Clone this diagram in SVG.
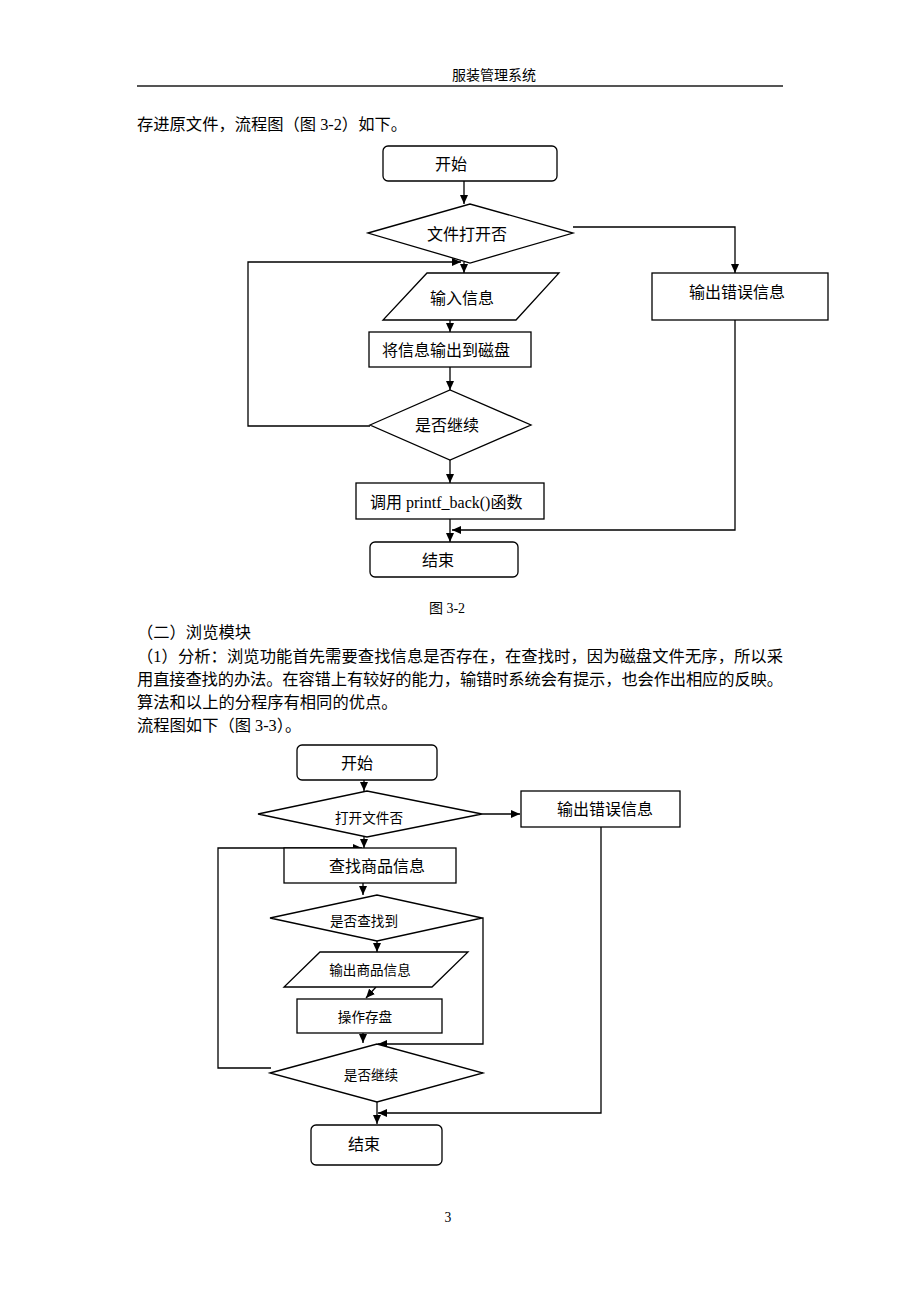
<svg xmlns="http://www.w3.org/2000/svg" width="920" height="1302" viewBox="0 0 920 1302">
<defs>
<marker id="ah" markerWidth="9" markerHeight="8" refX="9" refY="4" orient="auto" markerUnits="userSpaceOnUse">
<path d="M0,0 L9,4 L0,8 z" fill="#000"/>
</marker>
<style>
text{font-family:"Liberation Serif","Noto Sans CJK SC",serif;fill:#000}
.b{font-size:16.3px}
.l{font-size:16px;text-anchor:middle}
.s{font-size:13.6px;text-anchor:middle}
.m{font-size:16px;text-anchor:middle}
.n{fill:#fff;stroke:#000;stroke-width:1.3}
.c{fill:none;stroke:#000;stroke-width:1.3}
.a{fill:none;stroke:#000;stroke-width:1.3;marker-end:url(#ah)}
</style>
</defs>
<rect width="920" height="1302" fill="#fff"/>
<text x="494" y="80" class="s" style="font-size:14px">服装管理系统</text>
<line x1="137" y1="86" x2="783" y2="86" stroke="#555" stroke-width="2"/>
<text x="137" y="130" class="b">存进原文件，流程图（图 3-2）如下。</text>
<text x="447" y="613" class="s" style="font-size:14px">图 3-2</text>
<text x="137" y="638" class="b">（二）浏览模块</text>
<text x="137" y="662" class="b" textLength="646" lengthAdjust="spacing">（1）分析：浏览功能首先需要查找信息是否存在，在查找时，因为磁盘文件无序，所以采</text>
<text x="137" y="685" class="b" textLength="646" lengthAdjust="spacing">用直接查找的办法。在容错上有较好的能力，输错时系统会有提示，也会作出相应的反映。</text>
<text x="137" y="708" class="b">算法和以上的分程序有相同的优点。</text>
<text x="137" y="731" class="b">流程图如下（图 3-3）。</text>
<text x="448" y="1222" class="s">3</text>

<g id="connectors">
<line class="a" x1="464" y1="181" x2="464" y2="204"/>
<polyline class="a" points="573,227 735,227 735,273"/>
<polyline class="a" points="370,426 248,426 248,262 461,262"/>
<line class="a" x1="464" y1="262" x2="464" y2="273"/>
<line class="a" x1="450" y1="320" x2="450" y2="332"/>
<line class="a" x1="450" y1="367" x2="450" y2="390"/>
<line class="a" x1="450" y1="460" x2="450" y2="483"/>
<line class="a" x1="450" y1="519" x2="450" y2="542"/>
<polyline class="a" points="735,320 735,530 452,530"/>

<line class="a" x1="364" y1="780" x2="364" y2="791"/>
<line class="a" x1="482" y1="814" x2="520" y2="814"/>
<polyline class="a" points="601,827 601,1113 378,1113"/>
<line class="a" x1="364" y1="837" x2="364" y2="848"/>
<polyline class="a" points="271,1068 218,1068 218,848 362,848"/>
<line class="a" x1="363" y1="883" x2="363" y2="895"/>
<polyline class="a" points="482,918 483,918 483,1044 378,1044"/>
<line class="a" x1="377" y1="941" x2="377" y2="952"/>
<line class="a" x1="376" y1="987" x2="366" y2="998"/>
<line class="a" x1="363" y1="1033" x2="363" y2="1043"/>
<line class="a" x1="377" y1="1102" x2="377" y2="1124"/>
</g>

<g id="f1-start"><rect class="n" x="383" y="146" width="174" height="35" rx="5"/><text class="l" x="451" y="170">开始</text></g>
<g id="f1-open"><polygon class="n" points="368,233 470,204 573,233 470,263"/><text class="l" x="467" y="240">文件打开否</text></g>
<g id="f1-error"><rect class="n" x="652" y="273" width="176" height="47"/><text class="l" x="737" y="298">输出错误信息</text></g>
<g id="f1-input"><polygon class="n" points="427,273 559,273 516,320 383,320"/><text class="l" x="462" y="304">输入信息</text></g>
<g id="f1-write"><rect class="n" x="369" y="332" width="162" height="35"/><text class="l" x="446" y="356">将信息输出到磁盘</text></g>
<g id="f1-continue"><polygon class="n" points="370,425 450,390 531,425 450,460"/><text class="l" x="447" y="431">是否继续</text></g>
<g id="f1-call"><rect class="n" x="356" y="483" width="188" height="36"/><text class="b" x="370" y="508" style="font-size:16px">调用 printf_back()函数</text></g>
<g id="f1-end"><rect class="n" x="370" y="542" width="148" height="35" rx="5"/><text class="l" x="438" y="566">结束</text></g>

<g id="f2-start"><rect class="n" x="297" y="745" width="140" height="35" rx="5"/><text class="l" x="357" y="769">开始</text></g>
<g id="f2-open"><polygon class="n" points="258,814 367,791 482,814 367,837"/><text class="s" x="369" y="823">打开文件否</text></g>
<g id="f2-error"><rect class="n" x="521" y="791" width="159" height="36"/><text class="l" x="605" y="815">输出错误信息</text></g>
<g id="f2-find"><rect class="n" x="284" y="848" width="172" height="35"/><text class="m" x="377" y="872">查找商品信息</text></g>
<g id="f2-found"><polygon class="n" points="270,918 377,895 482,918 377,941"/><text class="s" x="364" y="926">是否查找到</text></g>
<g id="f2-output"><polygon class="n" points="320,952 468,952 432,987 284,987"/><text class="s" x="370" y="975">输出商品信息</text></g>
<g id="f2-save"><rect class="n" x="297" y="999" width="145" height="34"/><text class="s" x="365" y="1022">操作存盘</text></g>
<g id="f2-continue"><polygon class="n" points="270,1073 377,1044 483,1073 377,1102"/><text class="s" x="371" y="1080">是否继续</text></g>
<g id="f2-end"><rect class="n" x="311" y="1125" width="131" height="40" rx="5"/><text class="m" x="364" y="1150">结束</text></g>
</svg>
